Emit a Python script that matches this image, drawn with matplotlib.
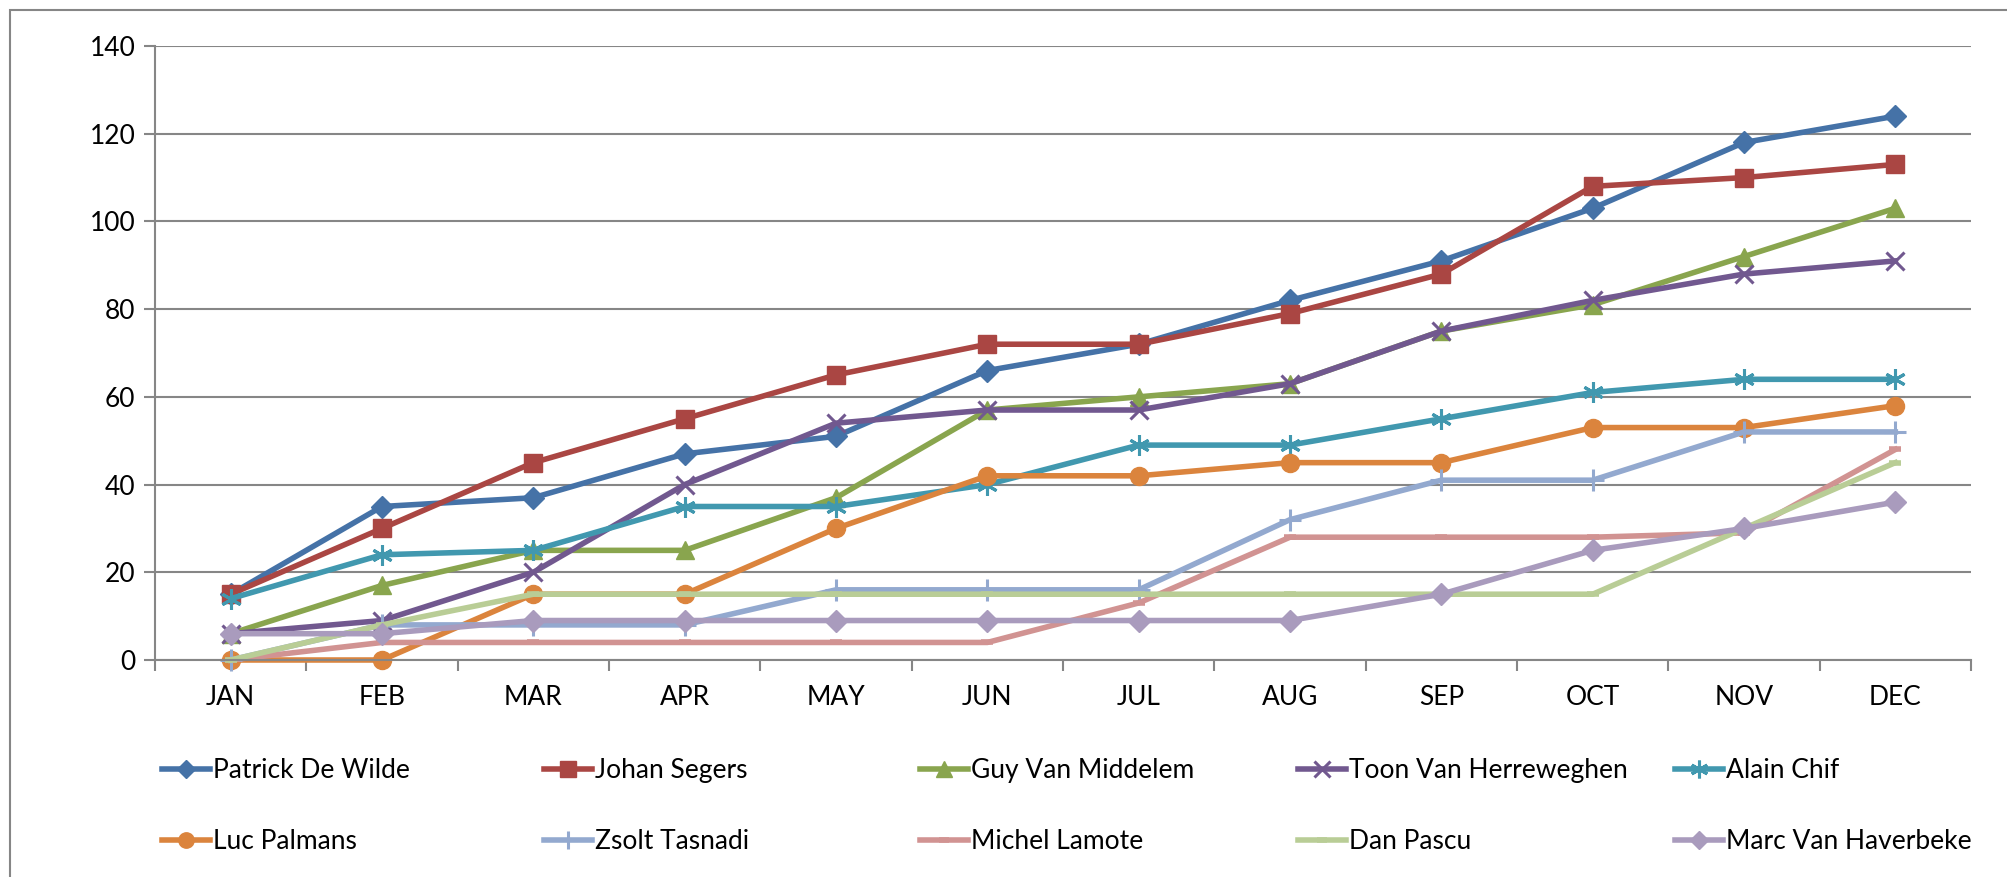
import matplotlib
matplotlib.use("Agg")
import matplotlib.pyplot as plt
from matplotlib.patches import Rectangle

months = ["JAN", "FEB", "MAR", "APR", "MAY", "JUN", "JUL", "AUG", "SEP", "OCT", "NOV", "DEC"]

patrick = [15, 35, 37, 47, 51, 66, 72, 82, 91, 103, 118, 124]
johan = [15, 30, 45, 55, 65, 72, 72, 79, 88, 108, 110, 113]
guy = [6, 17, 25, 25, 37, 57, 60, 63, 75, 81, 92, 103]
toon = [6, 9, 20, 40, 54, 57, 57, 63, 75, 82, 88, 91]
alain = [14, 24, 25, 35, 35, 40, 49, 49, 55, 61, 64, 64]
luc = [0, 0, 15, 15, 30, 42, 42, 45, 45, 53, 53, 58]
zsolt = [0, 8, 8, 8, 16, 16, 16, 32, 41, 41, 52, 52]
michel = [0, 4, 4, 4, 4, 4, 13, 28, 28, 28, 29, 48]
dan = [0, 8, 15, 15, 15, 15, 15, 15, 15, 15, 30, 45]
marc = [6, 6, 9, 9, 9, 9, 9, 9, 15, 25, 30, 36]

names = ["Patrick De Wilde", "Johan Segers", "Guy Van Middelem", "Toon Van Herreweghen", "Alain Chif",
         "Luc Palmans", "Zsolt Tasnadi", "Michel Lamote", "Dan Pascu", "Marc Van Haverbeke"]
series = [patrick, johan, guy, toon, alain, luc, zsolt, michel, dan, marc]
colors = ["#4572A7", "#AA4643", "#89A54E", "#71588F", "#4198AF",
          "#DB843D", "#93A9CF", "#D19392", "#B9CD96", "#A99BBD"]
markers = ["D", "s", "^", "x", (6, 2, 0), "o", "+", "_", "_", "D"]
msizes = [11, 13, 13, 13, 15, 13, 16, 8, 8, 11]

plt.rcParams['font.family'] = ['Lato', 'DejaVu Sans']

W, H = 2007, 877
fig = plt.figure(figsize=(W / 100, H / 100), dpi=100)
fig.patches.append(Rectangle((10 / W, -0.1), 1.2, 1 - 10 / H + 0.1, transform=fig.transFigure,
                             fill=False, edgecolor="#868686", linewidth=1.5))

ax = fig.add_axes([155 / W, 1 - 660 / H, (1971 - 155) / W, (660 - 46) / H])
x = list(range(len(months)))
handles = []
for name, vals, c, m, ms in zip(names, series, colors, markers, msizes):
    mew = 2.2 if m in ("x", "+", (6, 2, 0)) else (4 if m == "_" else 1)
    h, = ax.plot(x, vals, color=c, lw=4, marker=m, markersize=ms, markerfacecolor=c,
                 markeredgecolor=c, markeredgewidth=mew, label=name, solid_joinstyle="round",
                 clip_on=False)
    handles.append(h)

ax.set_xlim(-0.5, 11.5)
ax.set_ylim(0, 140)
ax.set_yticks(range(0, 141, 20))
ax.set_xticks(x)
ax.set_xticklabels(months)
ax.set_xticks([i - 0.5 for i in range(13)], minor=True)
ax.tick_params(axis="x", which="major", length=0, pad=18, labelsize=19)
ax.tick_params(axis="x", which="minor", length=8, width=1.5, color="#868686", direction="out")
ax.tick_params(axis="y", length=8, width=1.5, color="#868686", direction="out", labelsize=19, pad=6)
ax.grid(axis="y", color="#868686", lw=1.5)
ax.set_axisbelow(True)
for s in ["top", "right"]:
    ax.spines[s].set_visible(False)
for s in ["left", "bottom"]:
    ax.spines[s].set_color("#868686")
    ax.spines[s].set_linewidth(1.5)

col_x = [162, 544, 920, 1298, 1675]
for ci in range(5):
    hs = [handles[ci], handles[ci + 5]]
    leg = fig.legend(hs, [h.get_label() for h in hs], loc="upper left",
                     bbox_to_anchor=(col_x[ci] / W, 1 - 758 / H), frameon=False,
                     fontsize=19, handlelength=1.8, handletextpad=0.15, labelspacing=1.75,
                     borderaxespad=0, borderpad=0, markerscale=0.85)

fig.savefig("out.png", dpi=100)
